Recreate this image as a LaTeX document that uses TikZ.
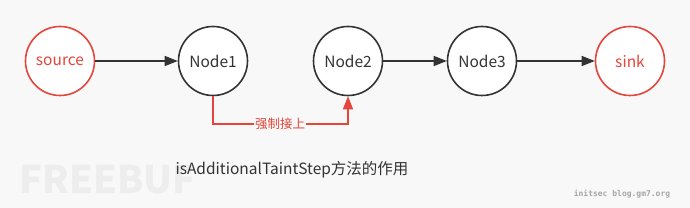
\documentclass[tikz,border=0pt]{standalone}
\usepackage{fontspec}
\setmainfont{Noto Sans CJK SC}
\newfontfamily\wmfont{DejaVu Sans Mono}
\usetikzlibrary{arrows.meta}
\definecolor{myred}{HTML}{E5453A}
\definecolor{mydark}{HTML}{333333}
\definecolor{bgc}{HTML}{F8F8F8}
\begin{document}
\begin{tikzpicture}[x=1pt,y=-1pt,
  nd/.style={circle,draw=mydark,line width=1.6pt,fill=white,minimum size=69pt,inner sep=0pt,font=\fontsize{15.5}{17}\selectfont,text=mydark},
  rednd/.style={nd,draw=myred,text=myred},
  arr/.style={line width=1.5pt,draw=mydark,-{Triangle[length=13pt,width=10pt]}},
  redarr/.style={line width=1.5pt,draw=myred,-{Triangle[length=13pt,width=10pt]}}]
\fill[bgc] (0,0) rectangle (690,208);
\useasboundingbox (0,0) rectangle (690,208);
\node[text=black!7,font=\bfseries\fontsize{38}{40}\selectfont,anchor=west] (fb) at (16,180) {FREEBUF};
\node[rednd] (src) at (60,61) {source};
\node[nd] (n1) at (213,61) {Node1};
\node[nd] (n2) at (348,61) {Node2};
\node[nd] (n3) at (482,61) {Node3};
\node[rednd] (sink) at (630,61) {sink};
\draw[arr] (src) -- (n1);
\draw[arr] (n2) -- (n3);
\draw[arr] (n3) -- (sink);
\coordinate (c1) at (213,124);
\coordinate (c2) at (348,124);
\draw[redarr] (n1.south) -- (c1) -- (c2) -- (n2.south);
\node[fill=bgc,text=myred,inner sep=1pt,font=\fontsize{12.5}{14}\selectfont] (lbl) at (280,124) {强制接上};
\node[text=mydark,font=\fontsize{15.5}{18}\selectfont] (cap) at (292,170) {isAdditionalTaintStep方法的作用};
\node[text=black!35,font=\wmfont\bfseries\fontsize{8}{10}\selectfont] (wm) at (622,194) {initsec blog.gm7.org};
\end{tikzpicture}
\end{document}
